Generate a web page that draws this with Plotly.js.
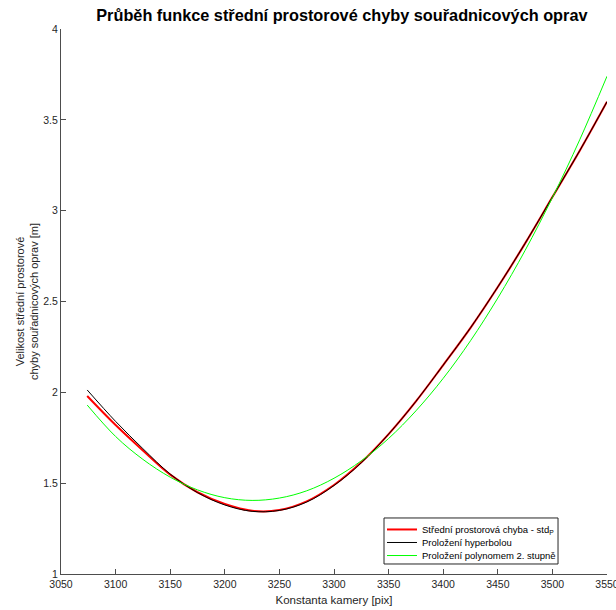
<!DOCTYPE html>
<html>
<head>
<meta charset="utf-8">
<script src="https://cdn.plot.ly/plotly-3.0.1.min.js"></script>
<style>html,body{margin:0;padding:0;background:#fff;}#chart{width:616px;height:610px;}</style>
</head>
<body>
<div id="chart"></div>
<script>
// Konstanta kamery [pix]
const xValues = [3074, 3100, 3125, 3150, 3175, 3200, 3225, 3250, 3275, 3300, 3325, 3350, 3375, 3400, 3425, 3450, 3475, 3500, 3525, 3550];
// Střední prostorová chyba - std_P
const redValues = [1.980, 1.820, 1.680, 1.547, 1.450, 1.385, 1.348, 1.352, 1.400, 1.490, 1.615, 1.770, 1.950, 2.150, 2.355, 2.580, 2.820, 3.075, 3.330, 3.600];
// Proložení hyperbolou
const blackValues = [2.013, 1.840, 1.690, 1.550, 1.448, 1.380, 1.345, 1.350, 1.396, 1.487, 1.612, 1.770, 1.950, 2.150, 2.355, 2.580, 2.820, 3.075, 3.330, 3.600];
// Proložení polynomem 2. stupně
const greenValues = [1.930, 1.757, 1.631, 1.533, 1.463, 1.420, 1.405, 1.418, 1.458, 1.527, 1.623, 1.746, 1.898, 2.077, 2.284, 2.519, 2.781, 3.072, 3.390, 3.740];

const seriesNames = ['Střední prostorová chyba - std<sub>P</sub>', 'Proložení hyperbolou', 'Proložení polynomem 2. stupně'];
const xTicks = [3050, 3100, 3150, 3200, 3250, 3300, 3350, 3400, 3450, 3500, 3550];
const yTicks = [1, 1.5, 2, 2.5, 3, 3.5, 4];

const axisColor = '#4d4d4d';
const fontFam = '"Liberation Sans", Arial, Helvetica, sans-serif';

const traces = [
  {x: xValues, y: redValues, name: seriesNames[0], legend: 'legend', mode: 'lines', line: {color: '#ff0000', width: 2, shape: 'spline'}},
  {x: xValues, y: blackValues, name: seriesNames[1], legend: 'legend2', mode: 'lines', line: {color: '#000000', width: 1, shape: 'spline'}},
  {x: xValues, y: greenValues, name: seriesNames[2], legend: 'legend3', mode: 'lines', line: {color: '#00ff00', width: 1, shape: 'spline'}}
];

function legendAt(yc) {
  return {x: 0.5879, y: yc, xanchor: 'left', yanchor: 'middle', bgcolor: 'rgba(0,0,0,0)', borderwidth: 0,
          font: {size: 9.5, color: '#000000'}, itemwidth: 30};
}

const layout = {
  width: 616, height: 610,
  margin: {l: 61, r: 9, t: 29, b: 36},
  paper_bgcolor: '#ffffff', plot_bgcolor: '#ffffff',
  font: {family: fontFam, color: '#262626', size: 10},
  title: {text: '<b>Průběh funkce střední prostorové chyby souřadnicových oprav</b>', font: {size: 16.3, color: '#000000', family: fontFam}, x: 0.555, xanchor: 'center', y: 0.975, yanchor: 'middle'},
  xaxis: {
    range: [3050, 3550], tickvals: xTicks, ticktext: xTicks.map(String), ticklabeloverflow: 'allow',
    showline: true, linecolor: axisColor, linewidth: 1, mirror: false,
    ticks: 'inside', ticklen: 5, tickcolor: axisColor, showgrid: false, zeroline: false,
    tickfont: {size: 10.5, color: '#262626'},
    title: {text: 'Konstanta kamery [pix]', font: {size: 11.5, color: '#262626'}, standoff: 7}
  },
  yaxis: {
    range: [1, 4], tickvals: yTicks, ticktext: yTicks.map(String), ticklabeloverflow: 'allow',
    showline: true, linecolor: axisColor, linewidth: 1, mirror: false,
    ticks: 'inside', ticklen: 5, tickcolor: axisColor, showgrid: false, zeroline: false,
    tickfont: {size: 10.5, color: '#262626'},
    title: {text: 'Velikost střední prostorové<br>chyby souřadnicových oprav [m]', font: {size: 11, color: '#262626'}, standoff: 2}
  },
  showlegend: true,
  legend: legendAt(0.0817),
  legend2: legendAt(0.0578),
  legend3: legendAt(0.0339),
  shapes: [
    {type: 'rect', xref: 'paper', yref: 'paper', x0: 0.5916, x1: 0.9103, y0: 0.01835, y1: 0.1028,
     line: {color: '#262626', width: 1}, fillcolor: '#ffffff', layer: 'above'}
  ]
};

Plotly.newPlot('chart', traces, layout, {displayModeBar: false, staticPlot: true});
</script>
</body>
</html>
